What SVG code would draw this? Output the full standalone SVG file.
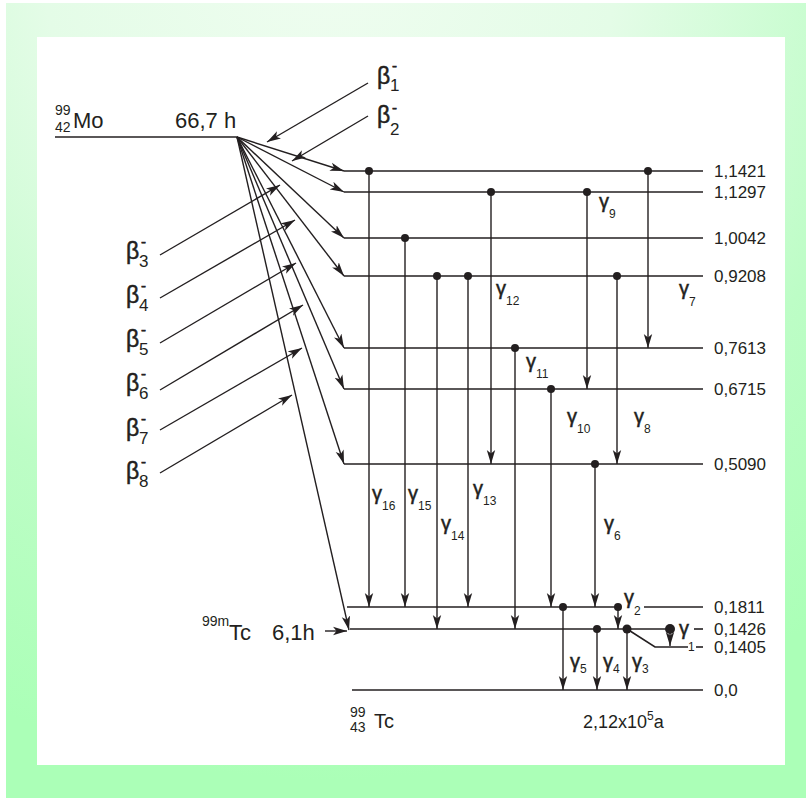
<svg xmlns="http://www.w3.org/2000/svg" width="806" height="798" viewBox="0 0 806 798">
<defs>
<radialGradient id="bg" gradientUnits="userSpaceOnUse" cx="330" cy="-40" r="820">
<stop offset="0" stop-color="#effdf0"/>
<stop offset="0.35" stop-color="#e4fce7"/>
<stop offset="0.7" stop-color="#bdfdc6"/>
<stop offset="1" stop-color="#abffb7"/>
</radialGradient>
<marker id="ah" markerUnits="userSpaceOnUse" markerWidth="15" markerHeight="10" refX="14" refY="5" orient="auto">
<path d="M0,0.8 L14,5 L0,9.2 L3.5,5 z" fill="#231f20"/>
</marker>
<style>
.lv{stroke:#231f20;stroke-width:1.6;fill:none}
.ar{stroke:#231f20;stroke-width:1.4;fill:none;marker-end:url(#ah)}
.dot{fill:#231f20}
text{font-family:"Liberation Sans",Arial,sans-serif;fill:#231f20}
.lab{font-size:17px}
.big{font-size:22px}
.sm{font-size:14px}
.beta{font-size:23px;stroke:#231f20;stroke-width:0.5}
.bsub{font-size:17px;stroke:none}
.bsup{font-size:15px;stroke:#231f20;stroke-width:0.6}
.g{font-size:20px;stroke:#231f20;stroke-width:0.5}
.gs{font-size:12px;stroke:none}
</style>
</defs>
<rect x="6" y="3" width="800" height="795" fill="url(#bg)"/>
<rect x="37" y="37" width="748" height="728" fill="#ffffff"/>

<g id="mo">
<line class="lv" x1="55" y1="137" x2="237" y2="137"/>
<text class="sm" x="55" y="115">99</text>
<text class="sm" x="55" y="132">42</text>
<text class="big" x="73" y="128">Mo</text>
<text class="big" x="175" y="128">66,7 h</text>
</g>

<g id="level-11421"><line class="lv" x1="344" y1="171" x2="703" y2="171"/><text class="lab" x="714" y="177">1,1421</text></g>
<g id="level-11297"><line class="lv" x1="344" y1="192" x2="703" y2="192"/><text class="lab" x="714" y="198">1,1297</text></g>
<g id="level-10042"><line class="lv" x1="344" y1="238" x2="703" y2="238"/><text class="lab" x="714" y="244">1,0042</text></g>
<g id="level-09208"><line class="lv" x1="344" y1="276" x2="703" y2="276"/><text class="lab" x="714" y="282">0,9208</text></g>
<g id="level-07613"><line class="lv" x1="344" y1="348" x2="703" y2="348"/><text class="lab" x="714" y="354">0,7613</text></g>
<g id="level-06715"><line class="lv" x1="344" y1="389" x2="703" y2="389"/><text class="lab" x="714" y="395">0,6715</text></g>
<g id="level-05090"><line class="lv" x1="344" y1="464" x2="703" y2="464"/><text class="lab" x="714" y="470">0,5090</text></g>
<g id="level-01811"><line class="lv" x1="347" y1="607" x2="618" y2="607"/><line class="lv" x1="644" y1="607" x2="703" y2="607"/><text class="lab" x="714" y="613">0,1811</text></g>
<g id="level-01426"><line class="lv" x1="350" y1="629" x2="670" y2="629"/><line class="lv" x1="694" y1="629" x2="703" y2="629"/><text class="lab" x="714" y="635">0,1426</text></g>
<g id="level-01405"><polyline class="lv" points="627,629 655,647 688,647"/><line class="lv" x1="696" y1="647" x2="703" y2="647"/><text class="lab" x="714" y="653">0,1405</text></g>
<g id="level-00"><line class="lv" x1="352" y1="690" x2="703" y2="690"/><text class="lab" x="714" y="696">0,0</text></g>

<g id="tc99m">
<text class="sm" x="202" y="626">99m</text>
<text class="big" x="229" y="640">Tc</text>
<text class="big" x="272" y="640">6,1h</text>
</g>
<g id="tc99">
<text class="sm" x="350" y="717">99</text>
<text class="sm" x="350" y="732">43</text>
<text style="font-size:20px" x="374" y="728">Tc</text>
<text style="font-size:18px" x="583" y="728">2,12x10<tspan dy="-8" style="font-size:12px">5</tspan><tspan dy="8">a</tspan></text>
</g>

<g id="beta-labels">
<text class="beta" x="377" y="84">β</text><text class="bsup" x="392" y="71">-</text><text class="bsub" x="390" y="91">1</text>
<text class="beta" x="377" y="123">β</text><text class="bsup" x="392" y="113">-</text><text class="bsub" x="390" y="135">2</text>
<text class="beta" x="126" y="259">β</text><text class="bsup" x="141" y="247">-</text><text class="bsub" x="139" y="267">3</text>
<text class="beta" x="126" y="303">β</text><text class="bsup" x="141" y="291">-</text><text class="bsub" x="139" y="311">4</text>
<text class="beta" x="126" y="347">β</text><text class="bsup" x="141" y="335">-</text><text class="bsub" x="139" y="355">5</text>
<text class="beta" x="126" y="391">β</text><text class="bsup" x="141" y="379">-</text><text class="bsub" x="139" y="399">6</text>
<text class="beta" x="126" y="436">β</text><text class="bsup" x="141" y="424">-</text><text class="bsub" x="139" y="444">7</text>
<text class="beta" x="126" y="479">β</text><text class="bsup" x="141" y="467">-</text><text class="bsub" x="139" y="487">8</text>
</g>

<g id="gamma-labels">
<text class="g" x="372" y="500">γ<tspan class="gs" x="382" dy="10">16</tspan></text>
<text class="g" x="408" y="500">γ<tspan class="gs" x="418" dy="10">15</tspan></text>
<text class="g" x="441" y="530">γ<tspan class="gs" x="451" dy="10">14</tspan></text>
<text class="g" x="473" y="495">γ<tspan class="gs" x="483" dy="10">13</tspan></text>
<text class="g" x="496" y="295">γ<tspan class="gs" x="506" dy="10">12</tspan></text>
<text class="g" x="526" y="368">γ<tspan class="gs" x="536" dy="10">11</tspan></text>
<text class="g" x="567" y="423">γ<tspan class="gs" x="577" dy="10">10</tspan></text>
<text class="g" x="599" y="208">γ<tspan class="gs" x="609" dy="10">9</tspan></text>
<text class="g" x="634" y="423">γ<tspan class="gs" x="644" dy="10">8</tspan></text>
<text class="g" x="679" y="295">γ<tspan class="gs" x="689" dy="11">7</tspan></text>
<text class="g" x="604" y="530">γ<tspan class="gs" x="614" dy="10">6</tspan></text>
<text class="g" x="570" y="668">γ<tspan class="gs" x="580" dy="5">5</tspan></text>
<text class="g" x="603" y="668">γ<tspan class="gs" x="613" dy="5">4</tspan></text>
<text class="g" x="632" y="668">γ<tspan class="gs" x="642" dy="5">3</tspan></text>
<text class="g" x="624" y="604">γ<tspan class="gs" x="634" dy="11">2</tspan></text>
<text class="g" x="679" y="635">γ<tspan class="gs" x="688" dy="16">1</tspan></text>
</g>

<g id="connectors">
<line class="ar" x1="237" y1="137" x2="344" y2="171"/>
<line class="ar" x1="237" y1="137" x2="344" y2="192"/>
<line class="ar" x1="237" y1="137" x2="344" y2="238"/>
<line class="ar" x1="237" y1="137" x2="344" y2="276"/>
<line class="ar" x1="237" y1="137" x2="344" y2="348"/>
<line class="ar" x1="237" y1="137" x2="344" y2="389"/>
<line class="ar" x1="237" y1="137" x2="344" y2="464"/>
<line class="ar" x1="237" y1="137" x2="349" y2="630"/>
<line class="ar" x1="368" y1="83" x2="267" y2="142"/>
<line class="ar" x1="368" y1="116" x2="292" y2="161"/>
<line class="ar" x1="160" y1="255" x2="280" y2="185"/>
<line class="ar" x1="160" y1="298" x2="295" y2="220"/>
<line class="ar" x1="160" y1="343" x2="296" y2="263"/>
<line class="ar" x1="160" y1="390" x2="303" y2="305"/>
<line class="ar" x1="160" y1="430" x2="302" y2="348"/>
<line class="ar" x1="160" y1="473" x2="292" y2="395"/>
<line class="ar" x1="325" y1="631" x2="347" y2="631"/>
<line class="ar" x1="369" y1="171" x2="369" y2="607"/>
<line class="ar" x1="405" y1="238" x2="405" y2="607"/>
<line class="ar" x1="437" y1="276" x2="437" y2="629"/>
<line class="ar" x1="468" y1="276" x2="468" y2="607"/>
<line class="ar" x1="491" y1="192" x2="491" y2="464"/>
<line class="ar" x1="515" y1="348" x2="515" y2="629"/>
<line class="ar" x1="551" y1="389" x2="551" y2="607"/>
<line class="ar" x1="587" y1="192" x2="587" y2="389"/>
<line class="ar" x1="617" y1="276" x2="617" y2="464"/>
<line class="ar" x1="648" y1="171" x2="648" y2="348"/>
<line class="ar" x1="595" y1="464" x2="595" y2="607"/>
<line class="ar" x1="563" y1="607" x2="563" y2="690"/>
<line class="ar" x1="597" y1="629" x2="597" y2="690"/>
<line class="ar" x1="627" y1="629" x2="627" y2="690"/>
<line class="ar" x1="618" y1="607" x2="618" y2="629"/>
<line class="ar" x1="670" y1="629" x2="670" y2="646"/>
<circle class="dot" cx="369" cy="171" r="4"/>
<circle class="dot" cx="405" cy="238" r="4"/>
<circle class="dot" cx="437" cy="276" r="4"/>
<circle class="dot" cx="468" cy="276" r="4"/>
<circle class="dot" cx="491" cy="192" r="4"/>
<circle class="dot" cx="515" cy="348" r="4"/>
<circle class="dot" cx="551" cy="389" r="4"/>
<circle class="dot" cx="587" cy="192" r="4"/>
<circle class="dot" cx="617" cy="276" r="4"/>
<circle class="dot" cx="648" cy="171" r="4"/>
<circle class="dot" cx="595" cy="464" r="4"/>
<circle class="dot" cx="563" cy="607" r="4"/>
<circle class="dot" cx="597" cy="629" r="4"/>
<circle class="dot" cx="627" cy="629" r="4.5"/>
<circle class="dot" cx="618" cy="607" r="4"/>
<circle class="dot" cx="670" cy="629" r="5"/>
</g>
</svg>
